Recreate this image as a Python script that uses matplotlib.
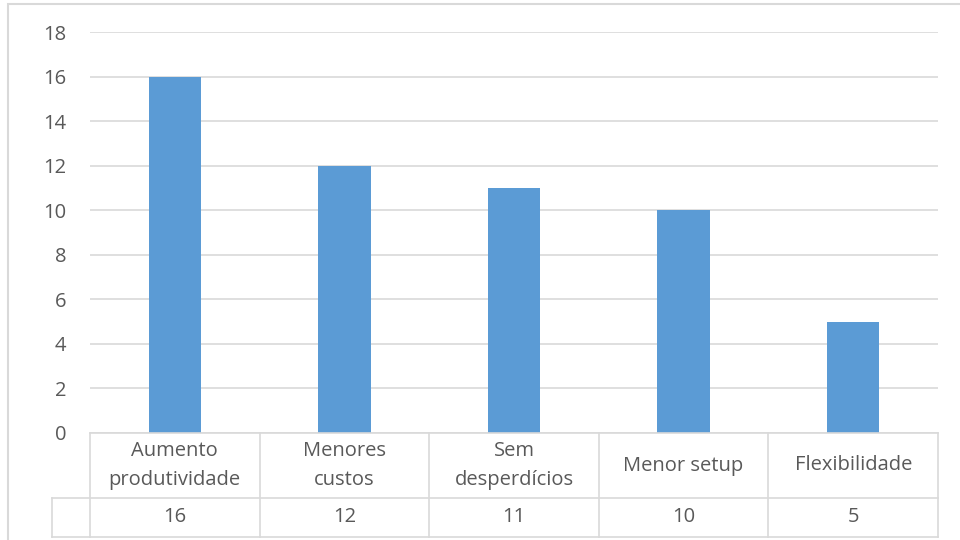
import numpy as np
import matplotlib.pyplot as plt
import matplotlib.transforms as mtransforms
from matplotlib.patches import Rectangle

# Benefits and how often each one was cited
categories = ['Aumento\nprodutividade', 'Menores\ncustos', 'Sem\ndesperdícios', 'Menor setup', 'Flexibilidade']
values = [16, 12, 11, 10, 5]
yticks = [0, 2, 4, 6, 8, 10, 12, 14, 16, 18]

bar_color = '#5B9BD5'
grid_color = '#D9D9D9'
text_color = '#595959'
plt.rcParams['font.family'] = ['Open Sans', 'DejaVu Sans']
fs = 14.5

fig = plt.figure(figsize=(9.6, 5.4), dpi=100)
ax = fig.add_axes([90 / 960, 1 - 433 / 540, 848 / 960, 401 / 540])

x = np.arange(len(categories))
ax.bar(x, values, width=0.31, color=bar_color, zorder=3)

ax.set_xlim(-0.5, len(categories) - 0.5)
ax.set_ylim(0, 18)
ax.set_yticks(yticks)
ax.set_yticklabels([str(t) for t in yticks])
ax.set_xticks([])
ax.tick_params(axis='y', length=0, pad=17, labelsize=fs, labelcolor=text_color)
for s in ax.spines.values():
    s.set_visible(False)
ax.yaxis.grid(True, color=grid_color, linewidth=1.2, zorder=0)

# Data table under the axis
trans = mtransforms.blended_transform_factory(ax.transData, ax.transAxes)
row1 = -(498 - 433) / 401
row2 = -(537 - 433) / 401
left_col = -0.5 - 38 / 169.6
right = len(categories) - 0.5
line_kw = dict(color=grid_color, linewidth=1.2, transform=trans, clip_on=False, zorder=4)

ax.plot([-0.5, right], [0, 0], **line_kw)
ax.plot([left_col, right], [row1, row1], **line_kw)
ax.plot([left_col, right], [row2, row2], **line_kw)
ax.plot([left_col, left_col], [row1, row2], **line_kw)
for b in np.arange(-0.5, len(categories)):
    ax.plot([b, b], [0, row2], **line_kw)

for i, (cat, val) in enumerate(zip(categories, values)):
    ax.text(i, row1 / 2, cat, transform=trans, ha='center', va='center',
            fontsize=fs, color=text_color, linespacing=1.55)
    ax.text(i, (row1 + row2) / 2, str(val), transform=trans, ha='center', va='center',
            fontsize=fs, color=text_color)

# Outer chart frame
fig.patches.append(Rectangle((8 / 960, -0.05), 1.0, 1 - 4 / 540 + 0.05, transform=fig.transFigure,
                             fill=False, edgecolor=grid_color, linewidth=1.5))

fig.savefig('out.png', dpi=100)
